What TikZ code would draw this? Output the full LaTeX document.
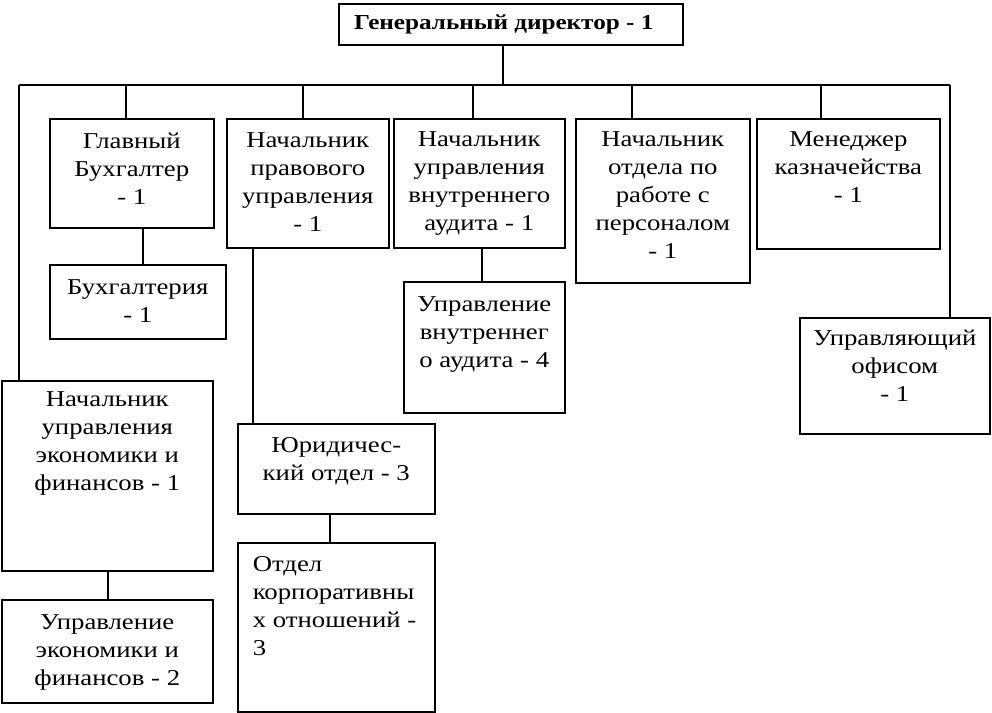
\documentclass[tikz,border=0pt]{standalone}
\usepackage{fontspec}
\setmainfont{Liberation Serif}[FakeStretch=1.18]
\newlength{\pxu}
\setlength{\pxu}{0.75pt}
\begin{document}
\begin{tikzpicture}[x=0.75pt,y=-0.75pt,line width=.8pt,
  font=\fontsize{17}{21}\selectfont,
  unit/.style={draw,line width=1.2pt,inner sep=0pt,anchor=north west},
  link/.style={line width=1.5pt},
  wire/.style={line width=.8pt}]
  \useasboundingbox (0,0) rectangle (992,713);
  % top
  \node[unit,font=\fontsize{16}{21}\selectfont\bfseries] (gen) at (338,3)
    {\parbox[t][41\pxu][c]{344\pxu}{\centering\hspace*{-14\pxu}Генеральный директор - 1}};
  % first row
  \node[unit] (glav) at (49,118)
    {\parbox[t][109\pxu][t]{164\pxu}{\centering\vspace*{14\pxu}Главный\\Бухгалтер\\- 1}};
  \node[unit] (prav) at (226,118)
    {\parbox[t][129\pxu][t]{162\pxu}{\centering\vspace*{14\pxu}Начальник\\правового\\управления\\- 1}};
  \node[unit] (audit) at (393,118)
    {\parbox[t][129\pxu][t]{171\pxu}{\centering\vspace*{13\pxu}Начальник\\управления\\внутреннего\\аудита - 1}};
  \node[unit] (kadr) at (575,118)
    {\parbox[t][164\pxu][t]{174\pxu}{\centering\vspace*{13\pxu}Начальник\\отдела по\\работе с\\персоналом\\- 1}};
  \node[unit] (kazn) at (756,118)
    {\parbox[t][130\pxu][t]{183\pxu}{\centering\vspace*{13\pxu}Менеджер\\казначейства\\- 1}};
  % lower boxes
  \node[unit] (buh) at (49,264)
    {\parbox[t][74\pxu][t]{176\pxu}{\centering\vspace*{15\pxu}Бухгалтерия\\- 1}};
  \node[unit] (uaudit) at (403,281)
    {\parbox[t][131\pxu][t]{161\pxu}{\centering\vspace*{15\pxu}Управление\\внутреннег\\о аудита - 4}};
  \node[unit] (ofis) at (799,317)
    {\parbox[t][116\pxu][t]{190\pxu}{\centering\vspace*{12\pxu}Управляющий\\офисом\\- 1}};
  \node[unit] (econ) at (1,380)
    {\parbox[t][190\pxu][t]{211\pxu}{\centering\vspace*{11\pxu}Начальник\\управления\\экономики и\\финансов - 1}};
  \node[unit] (uecon) at (1,599)
    {\parbox[t][103\pxu][t]{211\pxu}{\centering\vspace*{15\pxu}Управление\\экономики и\\финансов - 2}};
  \node[unit] (yur) at (237,423)
    {\parbox[t][90\pxu][t]{197\pxu}{\centering\vspace*{14\pxu}Юридичес-\\кий отдел - 3}};
  \node[unit] (korp) at (237,542)
    {\parbox[t][169\pxu][t]{197\pxu}{\raggedright\leftskip=15\pxu\vspace*{14\pxu}Отдел\\корпоративны\\х отношений -\\3}};
  % bus
  \coordinate (top) at (503,85);
  \coordinate (busL) at (19,85);
  \coordinate (busR) at (950,85);
  \coordinate (d1) at (126,85);
  \coordinate (d2) at (303,85);
  \coordinate (d3) at (473,85);
  \coordinate (d4) at (632,85);
  \coordinate (d5) at (821,85);
  \draw[wire] (gen.south -| top) -- (top);
  \draw[wire] (busL) -- (busR);
  \draw[wire] (busL) -- (busL |- econ.north);
  \draw[wire] (busR) -- (busR |- ofis.north);
  \draw[link] (d1) -- (d1 |- glav.north);
  \draw[wire] (d2) -- (d2 |- prav.north);
  \draw[wire] (d3) -- (d3 |- audit.north);
  \draw[wire] (d4) -- (d4 |- kadr.north);
  \draw[link] (d5) -- (d5 |- kazn.north);
  % sub links
  \coordinate (s1) at (143,250);
  \coordinate (s2) at (253,300);
  \coordinate (s3) at (482,260);
  \coordinate (s4) at (108,580);
  \coordinate (s5) at (330,520);
  \draw[link] (s1 |- glav.south) -- (s1 |- buh.north);
  \draw[link] (s2 |- prav.south) -- (s2 |- yur.north);
  \draw[link] (s3 |- audit.south) -- (s3 |- uaudit.north);
  \draw[link] (s4 |- econ.south) -- (s4 |- uecon.north);
  \draw[wire] (s5 |- yur.south) -- (s5 |- korp.north);
\end{tikzpicture}
\end{document}
